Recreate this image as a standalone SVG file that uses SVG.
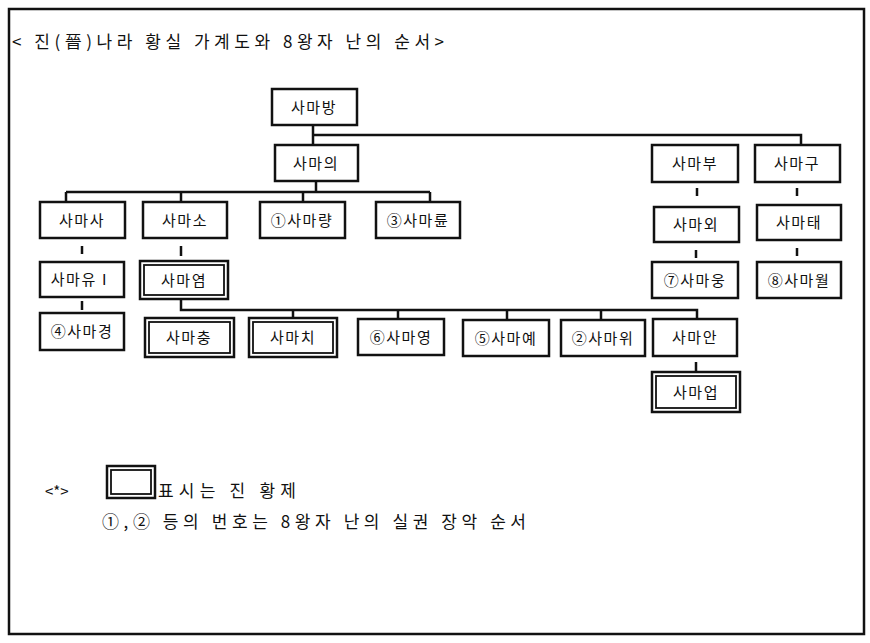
<svg xmlns="http://www.w3.org/2000/svg" width="870" height="643" viewBox="0 0 870 643">
<style>
text{font-family:"Noto Sans CJK KR","DejaVu Sans",sans-serif;font-size:15px;fill:#111}
.b{font-size:17px}
.n rect{fill:#fff;stroke:#111;stroke-width:2.5}
.d rect.i{stroke-width:1.8}
.n text{text-anchor:middle;letter-spacing:1.5px}
.c{stroke:#111;stroke-width:2.5;fill:none}
</style>
<rect x="0" y="0" width="870" height="643" fill="#fff"/>
<rect x="9" y="9" width="855" height="625" fill="none" stroke="#111" stroke-width="2.5"/>
<text class="b" x="12" y="48" textLength="432" lengthAdjust="spacing">&lt; 진(晉)나라 황실 가계도와 8왕자 난의 순서&gt;</text>
<g class="c" id="connectors">
<path d="M313 125V145M313 135H801V145"/>
<path d="M316 181V192M66 192H430M66 192V202M181 192V202M303 192V202M430 192V202"/>
<path d="M82 246V254M181 246V256M697 188V196M797 188V196M696 250V258M797 248V256M82 301V310"/>
<path d="M181 299V310H697V319M293 310V318M398 310V319M507 310V320M601 310V320M696 362V372"/>
</g>
<g class="n" id="n1"><rect x="272" y="89" width="85" height="36"/><text x="314" y="113">사마방</text></g>
<g class="n" id="n2"><rect x="275" y="145" width="83" height="36"/><text x="316" y="169">사마의</text></g>
<g class="n" id="n3"><rect x="652" y="145" width="86" height="37"/><text x="695" y="169">사마부</text></g>
<g class="n" id="n4"><rect x="755" y="145" width="85" height="37"/><text x="797" y="169">사마구</text></g>
<g class="n" id="n5"><rect x="40" y="202" width="85" height="36"/><text x="82" y="226">사마사</text></g>
<g class="n" id="n6"><rect x="143" y="202" width="84" height="36"/><text x="185" y="226">사마소</text></g>
<g class="n" id="n7"><rect x="260" y="202" width="85" height="36"/><text x="302" y="226">①사마량</text></g>
<g class="n" id="n8"><rect x="376" y="202" width="84" height="36"/><text x="418" y="226">③사마륜</text></g>
<g class="n" id="n9"><rect x="654" y="207" width="85" height="35"/><text x="696" y="230">사마외</text></g>
<g class="n" id="n10"><rect x="757" y="205" width="84" height="35"/><text x="799" y="228">사마태</text></g>
<g class="n" id="n11"><rect x="652" y="262" width="86" height="36"/><text x="695" y="286">⑦사마웅</text></g>
<g class="n" id="n12"><rect x="757" y="262" width="84" height="36"/><text x="799" y="286">⑧사마월</text></g>
<g class="n" id="n13"><rect x="40" y="262" width="84" height="35"/><text x="82" y="285">사마유Ⅰ</text></g>
<g class="n d" id="n14"><rect x="140" y="261" width="88" height="38"/><rect class="i" x="144" y="265" width="80" height="30"/><text x="184" y="286">사마염</text></g>
<g class="n" id="n15"><rect x="40" y="313" width="84" height="37"/><text x="82" y="337">④사마경</text></g>
<g class="n d" id="n16"><rect x="145" y="318" width="89" height="39"/><rect class="i" x="149" y="322" width="81" height="31"/><text x="189" y="343">사마충</text></g>
<g class="n d" id="n17"><rect x="249" y="318" width="88" height="39"/><rect class="i" x="253" y="322" width="80" height="31"/><text x="293" y="343">사마치</text></g>
<g class="n" id="n18"><rect x="358" y="319" width="86" height="36"/><text x="401" y="343">⑥사마영</text></g>
<g class="n" id="n19"><rect x="463" y="320" width="86" height="36"/><text x="506" y="344">⑤사마예</text></g>
<g class="n" id="n20"><rect x="561" y="320" width="84" height="36"/><text x="603" y="344">②사마위</text></g>
<g class="n" id="n21"><rect x="653" y="319" width="84" height="37"/><text x="695" y="343">사마안</text></g>
<g class="n d" id="n22"><rect x="652" y="372" width="88" height="40"/><rect class="i" x="656" y="376" width="80" height="32"/><text x="696" y="398">사마업</text></g>
<g id="legend">
<text x="45" y="497">&lt;*&gt;</text>
<rect x="107" y="466" width="48" height="32" fill="#fff" stroke="#111" stroke-width="2.5"/>
<rect x="111" y="470" width="40" height="24" fill="none" stroke="#111" stroke-width="1.8"/>
<text class="b" x="158" y="497" textLength="138" lengthAdjust="spacing">표시는 진 황제</text>
<text class="b" x="102" y="528" textLength="424" lengthAdjust="spacing">①,② 등의 번호는 8왕자 난의 실권 장악 순서</text>
</g>
</svg>
